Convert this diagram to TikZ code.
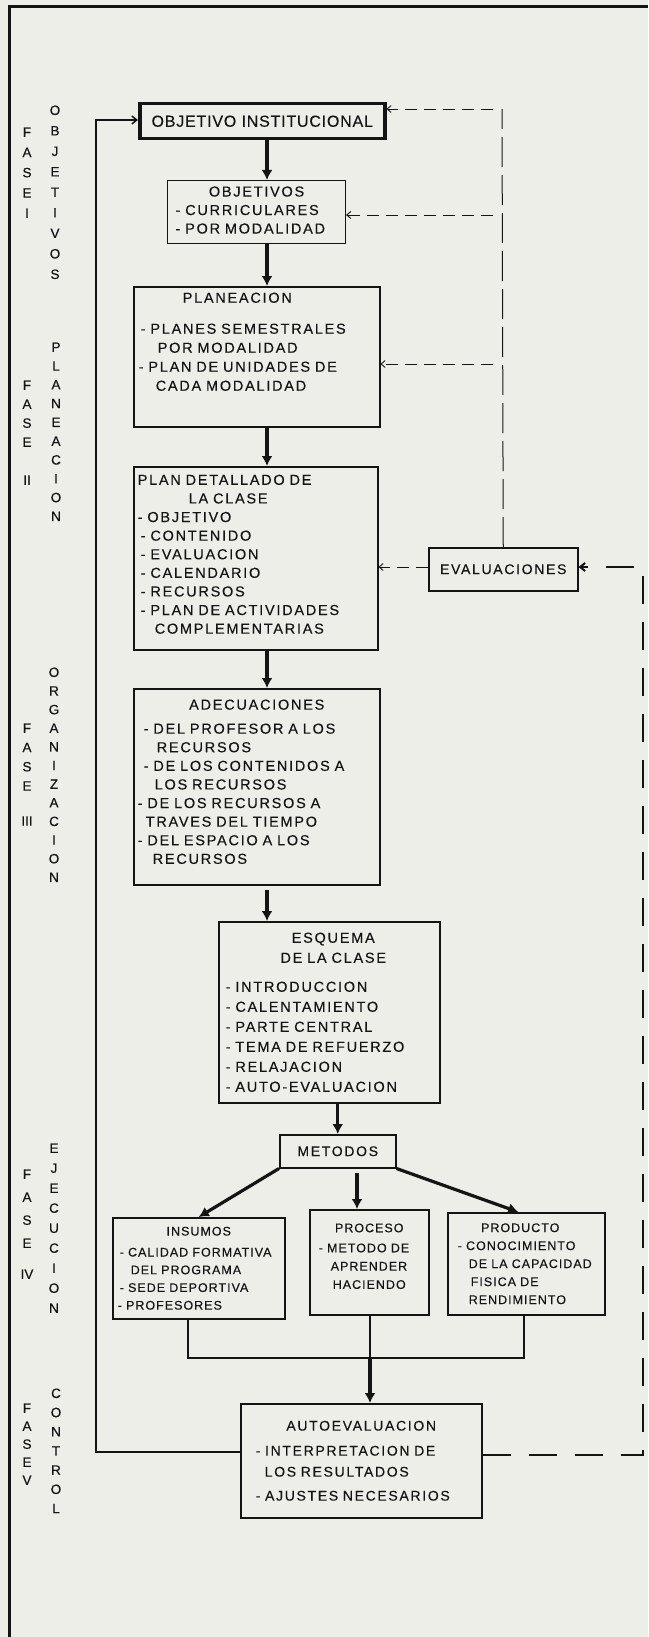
\documentclass[tikz,border=0pt]{standalone}
\usepackage{fontspec}
\setmainfont{Liberation Sans}[LetterSpace=12, FakeBold=0.3]
\newfontfamily\titlefont{Liberation Sans}[LetterSpace=5, FakeBold=0.3]
\newfontfamily\smallfont{Liberation Sans}[LetterSpace=8, FakeBold=0.3]
\newfontfamily\sidefont{Liberation Sans}[FakeBold=0.4]
\usetikzlibrary{arrows.meta,positioning}
\definecolor{paper}{RGB}{238,238,233}
\definecolor{ink}{RGB}{20,20,20}
\newcommand{\boxhead}[1]{\makebox[\hsize]{#1}}

\begin{document}
\begin{tikzpicture}[x=1pt, y=-1pt,
    box/.style={draw=ink, text=ink, line width=1.5pt, anchor=north west, inner xsep=4pt, inner ysep=0pt, align=left, font=\fontsize{14.5}{18.7}\selectfont},
    smallbox/.style={box, inner xsep=3pt, font=\smallfont\fontsize{12.5}{#1}\selectfont},
    letters/.style={anchor=north, inner sep=0pt, align=center, text=ink, font=\sidefont\fontsize{13.5}{#1}\selectfont},
    mainarrow/.style={draw=ink, line width=3.2pt, -{Latex[length=10pt,width=11pt]}},
    link/.style={draw=ink, line width=1.5pt},
    fbline/.style={draw=ink, line width=1pt, dash pattern=on 30pt off 8pt},
    fbarrow/.style={draw=ink, line width=0.9pt, dash pattern=on 12pt off 7pt, -{Straight Barb[length=4pt,width=7pt]}},
    looparrow/.style={draw=ink, line width=2pt, dash pattern=on 28pt off 18pt, -{Straight Barb[length=5pt,width=8pt]}}]
    \fill[paper] (0,0) rectangle (648,1637);
    \useasboundingbox (0,0) rectangle (648,1637);
    % frame
    \draw[ink, line width=3pt] (9,1637) -- (9,7) -- (648,7);

    % phases down the left side
    \node[letters=20.25] (fase1) at (27,127.3) {F\\A\\S\\E\\I};
    \node[letters=20.5] (objetivos) at (55,105.3) {O\\B\\J\\E\\T\\I\\V\\O\\S};
    \node[letters=19] (fase2) at (27,380.3) {F\\A\\S\\E\\[19pt]II};
    \node[letters=18.8] (planeacion) at (56,342.3) {P\\L\\A\\N\\E\\A\\C\\I\\O\\N};
    \node[letters=19.3] (fase3) at (27,723.3) {F\\A\\S\\E\\[15.7pt]III};
    \node[letters=18.64] (organizacion) at (54,667.3) {O\\R\\G\\A\\N\\I\\Z\\A\\C\\I\\O\\N};
    \node[letters=23] (fase4) at (27,1169.3) {F\\A\\S\\E\\[8pt]IV};
    \node[letters=20] (ejecucion) at (54,1143.3) {E\\J\\E\\C\\U\\C\\I\\O\\N};
    \node[letters=18] (fase5) at (27,1403.3) {F\\A\\S\\E\\V};
    \node[letters=19.2] (control) at (56,1388.3) {C\\O\\N\\T\\R\\O\\L};

    % main boxes
    \node[box, line width=3.5pt, align=center, minimum width=245pt, minimum height=35pt, font=\titlefont\fontsize{16}{19}\selectfont] (objinst) at (138,102) {OBJETIVO INSTITUCIONAL};
    \node[box, line width=1.1pt, text width=170pt, minimum height=63pt, font=\fontsize{14.5}{18.5}\selectfont] (objcurr) at (167,180)
        {\boxhead{OBJETIVOS}\\ \hspace*{4pt}- CURRICULARES\\ \hspace*{4pt}- POR MODALIDAD\par\vspace*{4pt}};
    \node[box, text width=238pt, minimum height=140pt, font=\fontsize{14.5}{19}\selectfont] (planea) at (133,286)
        {\hspace*{45pt}PLANEACION\\[12pt]
         \hspace*{3pt}- PLANES SEMESTRALES\\
         \hspace*{20pt}POR MODALIDAD\\
         \hspace*{1pt}- PLAN DE UNIDADES DE\\
         \hspace*{18pt}CADA MODALIDAD\par\vspace*{30pt}};
    \node[box, text width=236pt, minimum height=183pt, font=\fontsize{14.5}{18.6}\selectfont] (plandet) at (133,466)
        {PLAN DETALLADO DE\\
         \hspace*{51pt}LA CLASE\\
         - OBJETIVO\\
         \hspace*{3pt}- CONTENIDO\\
         \hspace*{3pt}- EVALUACION\\
         \hspace*{3pt}- CALENDARIO\\
         \hspace*{3pt}- RECURSOS\\
         \hspace*{3pt}- PLAN DE ACTIVIDADES\\
         \hspace*{17pt}COMPLEMENTARIAS\par\vspace*{8pt}};
    \node[box, align=center, minimum width=149pt, minimum height=43pt, font=\fontsize{14}{17}\selectfont] (evalua) at (428,547) {EVALUACIONES};
    \node[box, text width=238pt, minimum height=196pt, font=\fontsize{14.5}{18.6}\selectfont] (adecua) at (133,688)
        {\boxhead{ADECUACIONES}\\[5.4pt]
         \hspace*{6pt}- DEL PROFESOR A LOS\\
         \hspace*{19pt}RECURSOS\\
         \hspace*{6pt}- DE LOS CONTENIDOS A\\
         \hspace*{17pt}LOS RECURSOS\\
         - DE LOS RECURSOS A\\
         \hspace*{8pt}TRAVES DEL TIEMPO\\
         - DEL ESPACIO A LOS\\
         \hspace*{15pt}RECURSOS\par\vspace*{10pt}};
    \node[box, text width=213pt, minimum height=181pt, font=\fontsize{14.5}{20}\selectfont] (esquema) at (218,921)
        {\boxhead{\hspace*{8pt}ESQUEMA}\\
         \boxhead{\hspace*{8pt}DE LA CLASE}\\[9pt]
         \hspace*{3pt}- INTRODUCCION\\
         \hspace*{3pt}- CALENTAMIENTO\\
         \hspace*{3pt}- PARTE CENTRAL\\
         \hspace*{3pt}- TEMA DE REFUERZO\\
         \hspace*{3pt}- RELAJACION\\
         \hspace*{3pt}- AUTO-EVALUACION};
    \node[box, align=center, minimum width=116pt, minimum height=33pt, font=\fontsize{14}{17}\selectfont] (metodos) at (279,1134) {METODOS};

    % the three outcomes of the methods
    \node[smallbox=17.7, text width=166pt, minimum height=101pt] (insumos) at (112,1217)
        {\boxhead{INSUMOS}\\[3.3pt]
         \hspace*{4pt}- CALIDAD FORMATIVA\\
         \hspace*{15pt}DEL PROGRAMA\\
         \hspace*{4pt}- SEDE DEPORTIVA\\
         \hspace*{2pt}- PROFESORES};
    \node[smallbox=18.3, text width=113pt, minimum height=105pt] (proceso) at (309,1209)
        {\boxhead{PROCESO}\\[1.7pt]
         \hspace*{6pt}- METODO DE\\
         \hspace*{18pt}APRENDER\\
         \hspace*{20pt}HACIENDO\par\vspace*{12pt}};
    \node[smallbox=18, text width=151pt, minimum height=102pt] (producto) at (447,1212)
        {\boxhead{PRODUCTO\hspace*{12pt}}\\
         \hspace*{7pt}- CONOCIMIENTO\\
         \hspace*{18pt}DE LA CAPACIDAD\\
         \hspace*{20pt}FISICA DE\\
         \hspace*{18pt}RENDIMIENTO};
    \node[box, text width=233pt, minimum height=114pt, font=\fontsize{14}{22.5}\selectfont] (autoeval) at (240,1403)
        {\boxhead{AUTOEVALUACION}\\[2.5pt]
         \hspace*{11pt}- INTERPRETACION DE\\[-1.5pt]
         \hspace*{20pt}LOS RESULTADOS\\[1.5pt]
         \hspace*{11pt}- AJUSTES NECESARIOS};

    % main flow
    \coordinate (spine) at (267,0);
    \coordinate (mid) at (357,0);
    \draw[mainarrow] (objinst.south -| spine) -- (objcurr.north -| spine);
    \draw[mainarrow] (objcurr.south -| spine) -- (planea.north -| spine);
    \draw[mainarrow] (planea.south -| spine) -- (plandet.north -| spine);
    \draw[mainarrow] (plandet.south -| spine) -- (adecua.north -| spine);
    \draw[mainarrow] ([yshift=-4pt]adecua.south -| spine) -- (esquema.north -| spine);
    \draw[mainarrow] (esquema.south -| metodos.north) -- (metodos.north);
    \draw[mainarrow] (metodos.south west) -- (insumos.north);
    \draw[mainarrow] ([yshift=-4pt]metodos.south -| mid) -- (proceso.north -| mid);
    \draw[mainarrow] (metodos.south east) -- ([xshift=-8pt]producto.north);

    % joining the three outcomes
    \coordinate (mgl) at (188,1358);
    \coordinate (mgc) at (370,1358);
    \coordinate (mgr) at (524,1358);
    \draw[link] (insumos.south -| mgl) -- (mgl) -- (mgr) -- (producto.south -| mgr);
    \draw[link] (proceso.south -| mgc) -- (mgc);
    \draw[mainarrow] (mgc) -- (autoeval.north -| mgc);

    % feedback from the evaluations
    \coordinate (fb1) at (502,109);
    \coordinate (fb2) at (502,215);
    \coordinate (fb3) at (502,364);
    \draw[fbline] (evalua.north) -- (fb1);
    \draw[fbarrow] ([xshift=-9pt]fb1) -- (fb1 -| objinst.east);
    \draw[fbarrow] ([xshift=-9pt]fb2) -- (fb2 -| objcurr.east);
    \draw[fbarrow] ([xshift=-9pt]fb3) -- (fb3 -| planea.east);
    \coordinate (lp1) at (643,1455);
    \coordinate (lp2) at (643,567);
    \draw[fbarrow] (evalua.west |- lp2) -- (plandet.east |- lp2);
    \draw[looparrow] (autoeval.east |- lp1) -- (lp1) -- (lp2) -- (evalua.east |- lp2);

    % back to the start
    \coordinate (lp3) at (96,1452);
    \coordinate (lp4) at (96,120);
    \draw[link, -{Straight Barb[length=5pt,width=8pt]}] (autoeval.west |- lp3) -- (lp3) -- (lp4) -- (objinst.west |- lp4);
\end{tikzpicture}
\end{document}
